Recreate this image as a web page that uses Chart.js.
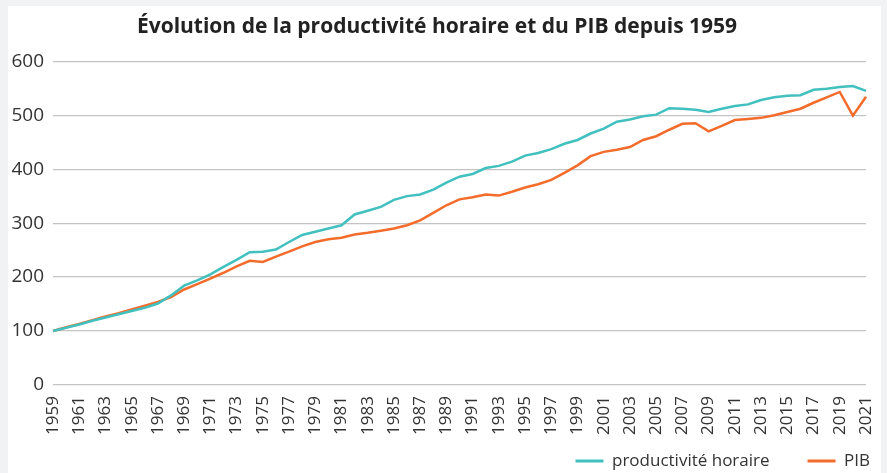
<!DOCTYPE html>
<html lang="fr">
<head>
<meta charset="utf-8">
<script src="https://cdn.jsdelivr.net/npm/chart.js@4.4.1/dist/chart.umd.min.js"></script>
<style>
  html, body { margin: 0; padding: 0; background: #f1f2f4; }
  #wrap { position: absolute; left: 8px; top: 6px; width: 873px; height: 467px; background: #fff; }
</style>
</head>
<body>
<div id="wrap"><canvas id="chart"></canvas></div>
<script>
// static chart, no animation
Chart.defaults.animation = false;
Chart.defaults.font.family = "'Open Sans', sans-serif";
Chart.defaults.color = '#333';

// Données (base 100 en 1959)
const years = [];
for (let y = 1959; y <= 2021; y++) years.push(String(y));

const productivite = [
  100, 106, 112, 119, 125, 131, 137, 143, 151, 166,
  184, 194, 205, 219, 232, 246, 247, 251, 265, 278,
  284, 290, 296, 316, 323, 330, 343, 350, 353, 362,
  375, 386, 391, 402, 406, 414, 425, 430, 437, 447,
  454, 466, 475, 488, 492, 498, 501, 513, 512, 510,
  506, 512, 517, 520, 528, 533, 536, 537, 547, 549,
  552, 554, 545
];

const pib = [
  100, 107, 113, 120, 127, 133, 140, 147, 154, 163,
  177, 187, 197, 208, 220, 230, 228, 238, 247, 257,
  265, 270, 273, 279, 282, 286, 290, 296, 305, 319,
  333, 344, 348, 353, 351, 358, 366, 372, 380, 393,
  407, 424, 432, 436, 441, 454, 461, 473, 484, 485,
  470, 480, 491, 493, 495, 500, 506, 512, 523, 533,
  543, 499, 534
];

const yTicks = [0, 100, 200, 300, 400, 500, 600];

const TEAL = '#41c0bf';
const ORANGE = '#f36c2b';
const LEGEND_PAD = 38;

// nudge the legend to the bottom-right corner like the original
const legendPlace = {
  id: 'legendPlace',
  afterLayout(chart) {
    const lg = chart.legend;
    if (!lg) return;
    lg.top = 455 - LEGEND_PAD - 8.5;
    lg.bottom = chart.height;
    const dx = (862 + LEGEND_PAD) - lg.right;
    lg.left += dx;
    lg.right += dx;
  }
};

new Chart(document.getElementById('chart'), {
  type: 'line',
  data: {
    labels: years,
    datasets: [
      {
        label: 'productivité horaire',
        data: productivite,
        borderColor: TEAL,
        backgroundColor: TEAL,
        borderWidth: 2.5,
        pointRadius: 0,
        tension: 0
      },
      {
        label: 'PIB',
        data: pib,
        borderColor: ORANGE,
        backgroundColor: ORANGE,
        borderWidth: 2.5,
        pointRadius: 0,
        tension: 0
      }
    ]
  },
  plugins: [legendPlace],
  options: {
    responsive: true,
    maintainAspectRatio: false,
    events: [],
    layout: { padding: { top: 2, right: 15, bottom: 0, left: 0 } },
    plugins: {
      title: {
        display: true,
        text: 'Évolution de la productivité horaire et du PIB depuis 1959',
        color: '#222',
        font: { size: 21, weight: 'bold' },
        padding: { top: 6, bottom: 22 }
      },
      legend: {
        position: 'bottom',
        align: 'end',
        maxHeight: 36,
        labels: {
          boxWidth: 28,
          boxHeight: 3,
          padding: LEGEND_PAD,
          color: '#333',
          font: { size: 17 },
          generateLabels: (chart) => Chart.defaults.plugins.legend.labels.generateLabels(chart)
            .map(l => ({ ...l, lineWidth: 0 }))
        }
      },
      tooltip: { enabled: false }
    },
    scales: {
      x: {
        afterFit: (s) => { s.height = 52; s.paddingLeft = 0; s.paddingRight = 0; },
        grid: { display: false, drawTicks: false },
        border: { display: false },
        ticks: {
          autoSkip: false,
          minRotation: 90,
          maxRotation: 90,
          padding: 11,
          color: '#333',
          font: { size: 17 },
          callback: (v, i) => (i % 2 === 0 ? years[i] : '')
        }
      },
      y: {
        min: 0,
        max: 600,
        afterBuildTicks: (s) => { s.ticks = yTicks.map(v => ({ value: v })); },
        afterFit: (s) => { s.width = 45; },
        grid: { color: '#c4c4c4', lineWidth: 1.2, drawTicks: false },
        border: { display: false },
        ticks: {
          padding: 9,
          color: '#333',
          font: { size: 19 }
        }
      }
    }
  }
});
</script>
</body>
</html>
